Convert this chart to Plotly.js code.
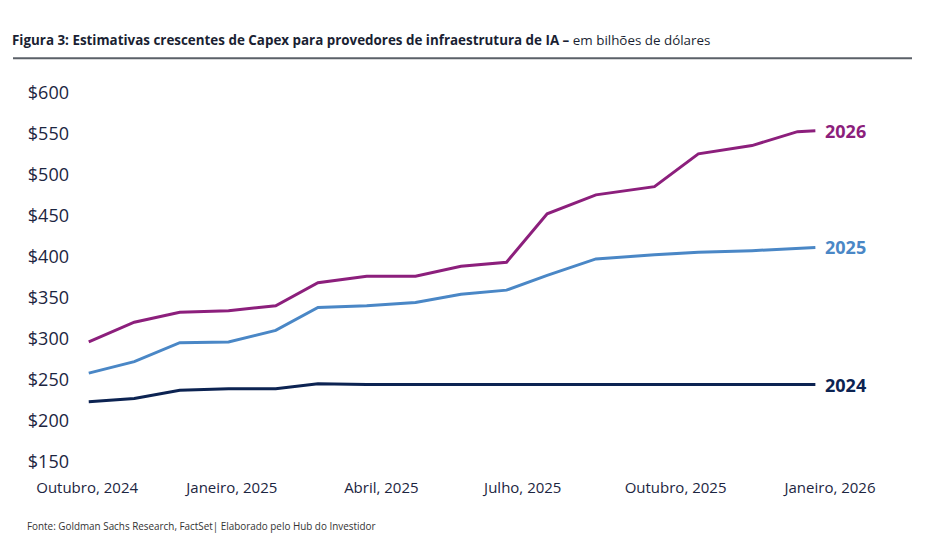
<!DOCTYPE html>
<html>
<head>
<meta charset="utf-8">
<script src="https://cdn.plot.ly/plotly-3.0.1.min.js"></script>
<style>
html,body{margin:0;padding:0;background:#fff;}
#chart{width:927px;height:557px;}
</style>
</head>
<body>
<div id="chart"></div>
<script>
// Dates of the estimate snapshots
const dates = ['2024-10-02','2024-10-30','2024-11-27','2024-12-27','2025-01-25','2025-02-20','2025-03-22','2025-04-21','2025-05-19','2025-06-16','2025-07-11','2025-08-10','2025-09-15','2025-10-12','2025-11-14','2025-12-12','2025-12-23'];
// Capex estimates, US$ billions
const capex2024 = [223,227,237,239,239,245,244,244,244,244,244,244,244,244,244,244,244];
const capex2025 = [258,272,295,296,310,338,340,344,354,359,377,397,402,405,407,410,411];
const capex2026 = [296,320,332,334,340,368,376,376,388,393,452,475,485,525,535,552,553];
const seriesNames = ['2024','2025','2026'];
const tickDates = ['2024-10-01','2024-12-29','2025-03-31','2025-06-26','2025-09-28','2026-01-01'];
const tickLabels = ['Outubro, 2024','Janeiro, 2025','Abril, 2025','Julho, 2025','Outubro, 2025','Janeiro, 2026'];
const yTicks = [150,200,250,300,350,400,450,500,550,600];

const colors = {'2024':'#0c2352','2025':'#4a87c6','2026':'#8c1f7c'};
const allSeries = {'2024':capex2024,'2025':capex2025,'2026':capex2026};

const traces = seriesNames.map(n => ({
  type:'scatter', mode:'lines', x:dates, y:allSeries[n], name:n,
  line:{color:colors[n], width:3}, hoverinfo:'skip'
}));

const annotations = seriesNames.map(n => ({
  x:dates[dates.length-1], y:allSeries[n][allSeries[n].length-1], xref:'x', yref:'y',
  text:'<b>'+n+'</b>', showarrow:false, xanchor:'left', yanchor:'middle', xshift:8,
  font:{family:'Open Sans', size:18, color:colors[n]}
}));
annotations.push({
  xref:'paper', yref:'paper', x:(25-79)/751, y:(470-526)/386, xanchor:'left', yanchor:'middle',
  showarrow:false, text:'Fonte: Goldman Sachs Research, FactSet| Elaborado pelo Hub do Investidor',
  font:{family:'Open Sans', size:9.9, color:'#333'}
});

const layout = {
  width:927, height:557,
  margin:{l:79, r:97, t:84, b:87},
  paper_bgcolor:'#fff', plot_bgcolor:'#fff',
  showlegend:false,
  title:{
    text:'<b>Figura 3: Estimativas crescentes de Capex para provedores de infraestrutura de IA –</b> em bilhões de dólares',
    x:12/927, xref:'container', xanchor:'left', y:1-40/557, yref:'container', yanchor:'middle',
    font:{family:'Open Sans', size:13.4, color:'#1a1f33'}
  },
  xaxis:{
    type:'date', range:['2024-09-26','2026-01-01'], showgrid:false, zeroline:false, showline:false,
    tickvals:tickDates, ticktext:tickLabels, ticks:'', ticklabelstandoff:7,
    tickfont:{family:'Open Sans', size:15, color:'#1c2541'}
  },
  yaxis:{
    range:[140,610], showgrid:false, zeroline:false, showline:false,
    tickvals:yTicks, ticktext:yTicks.map(v=>'$'+v), ticks:'', ticklabelstandoff:9,
    tickfont:{family:'Open Sans', size:18, color:'#1c2541'}
  },
  shapes:[{
    type:'line', xref:'paper', yref:'paper',
    x0:(13-79)/751, x1:(912-79)/751, y0:(470-58.3)/386, y1:(470-58.3)/386,
    line:{color:'#5b6168', width:2}
  }],
  annotations:annotations
};

Plotly.newPlot('chart', traces, layout, {displayModeBar:false, staticPlot:true});
</script>
</body>
</html>
